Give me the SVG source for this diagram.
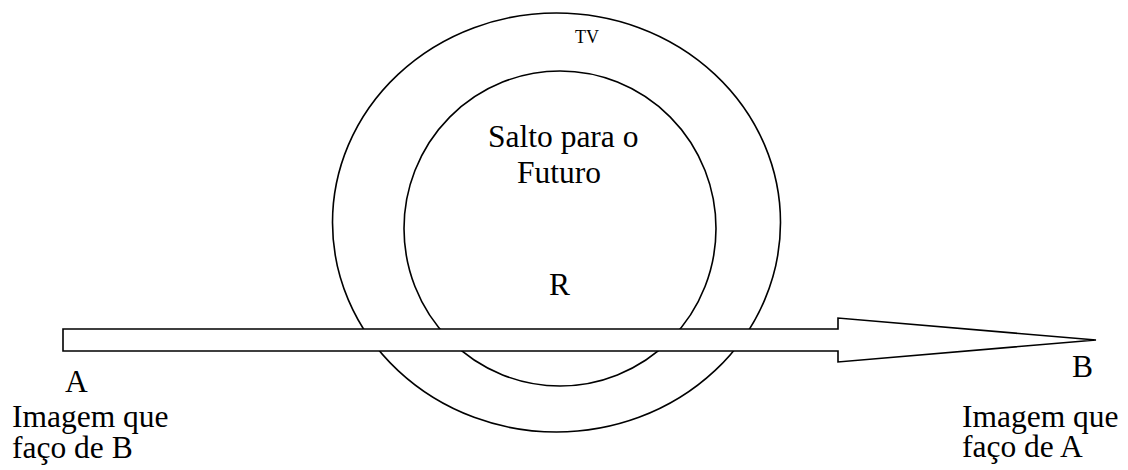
<svg xmlns="http://www.w3.org/2000/svg" width="1128" height="470" viewBox="0 0 1128 470">
<style>
.ring{fill:none;stroke:#000;stroke-width:1.6}
.arrow{fill:#fff;stroke:#000;stroke-width:1.6;stroke-linejoin:miter}
.t{fill:#000;font-size:31.5px}
.small{font-size:18px}
</style>
<rect width="1128" height="470" fill="#fff"/>
<g id="tv" font-family="'Liberation Serif', 'Times New Roman', 'DejaVu Serif', serif">
<ellipse class="ring" cx="556.5" cy="222.5" rx="224" ry="209.5"/>
<text class="t small" x="575" y="43">TV</text>
</g>
<g id="r" font-family="'Liberation Serif', 'Times New Roman', 'DejaVu Serif', serif">
<ellipse class="ring" cx="560" cy="228.5" rx="156" ry="157.5"/>
<text class="t" x="488" y="147">Salto para o</text>
<text class="t" x="517" y="183">Futuro</text>
<text class="t" x="549" y="295">R</text>
</g>
<g id="connectors">
<polygon class="arrow" points="63,329 838,329 838,318 1096,340 838,362 838,351 63,351"/>
</g>
<g id="a" font-family="'Liberation Serif', 'Times New Roman', 'DejaVu Serif', serif">
<text class="t" x="65" y="392">A</text>
<text class="t" x="12" y="427">Imagem que</text>
<text class="t" x="12" y="458">faço de B</text>
</g>
<g id="b" font-family="'Liberation Serif', 'Times New Roman', 'DejaVu Serif', serif">
<text class="t" x="1072" y="377">B</text>
<text class="t" x="962" y="427">Imagem que</text>
<text class="t" x="962" y="457">faço de A</text>
</g>
</svg>
